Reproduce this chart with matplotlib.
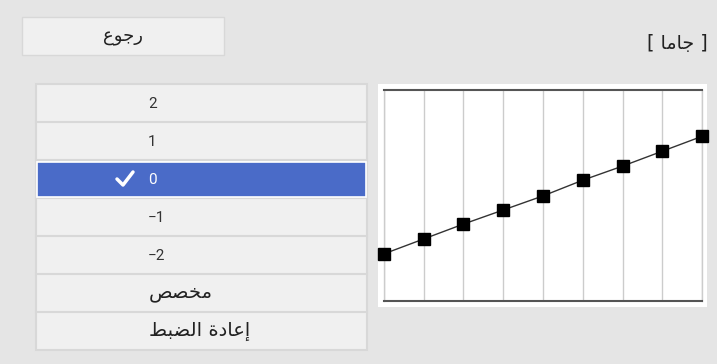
import matplotlib
matplotlib.use('Agg')
from matplotlib import pyplot as plt
from matplotlib.patches import Rectangle

# Arabic presentation forms: (isolated, final, initial, medial)
FORMS = {
    'ا': ('\uFE8D', '\uFE8E', None, None),
    'إ': ('\uFE87', '\uFE88', None, None),
    'ب': ('\uFE8F', '\uFE90', '\uFE91', '\uFE92'),
    'ة': ('\uFE93', '\uFE94', None, None),
    'ج': ('\uFE9D', '\uFE9E', '\uFE9F', '\uFEA0'),
    'خ': ('\uFEA5', '\uFEA6', '\uFEA7', '\uFEA8'),
    'د': ('\uFEA9', '\uFEAA', None, None),
    'ر': ('\uFEAD', '\uFEAE', None, None),
    'ص': ('\uFEB9', '\uFEBA', '\uFEBB', '\uFEBC'),
    'ض': ('\uFEBD', '\uFEBE', '\uFEBF', '\uFEC0'),
    'ط': ('\uFEC1', '\uFEC2', '\uFEC3', '\uFEC4'),
    'ع': ('\uFEC9', '\uFECA', '\uFECB', '\uFECC'),
    'ل': ('\uFEDD', '\uFEDE', '\uFEDF', '\uFEE0'),
    'م': ('\uFEE1', '\uFEE2', '\uFEE3', '\uFEE4'),
    'و': ('\uFEED', '\uFEEE', None, None),
}


def shape(text):
    # very small arabic shaper, returns glyphs in visual order
    out = []
    for word in text.split(' '):
        glyphs = []
        for i, ch in enumerate(word):
            if ch not in FORMS:
                glyphs.append(ch)
                continue
            prev = word[i - 1] if i > 0 else None
            nxt = word[i + 1] if i + 1 < len(word) else None
            join_prev = prev in FORMS and FORMS[prev][2] is not None
            join_next = nxt in FORMS and FORMS[ch][2] is not None
            f = FORMS[ch]
            if join_prev and join_next: glyphs.append(f[3])
            elif join_prev: glyphs.append(f[1])
            elif join_next: glyphs.append(f[2])
            else: glyphs.append(f[0])
        out.append(''.join(reversed(glyphs)))
    return ' '.join(reversed(out))


back_label = 'رجوع'
title_label = 'جاما'
menu_items = ['2', '1', '0', '−1', '−2', 'مخصص', 'إعادة الضبط']
selected_item = '0'

gamma_steps = [0, 1, 2, 3, 4, 5, 6, 7, 8]
gamma_values = [57, 75, 93, 110, 127, 146, 163, 181, 199]

W, H = 717, 364
bg = '#e5e5e5'
row_bg = '#f0f0f0'
sep = '#d8d8d8'
blue = '#4a6bc8'

fig = plt.figure(figsize=(W / 100, H / 100), dpi=100, facecolor=bg)
ui = fig.add_axes([0, 0, 1, 1])
ui.set_xlim(0, W)
ui.set_ylim(H, 0)
ui.axis('off')

# back button
ui.add_patch(Rectangle((22, 17), 202, 38, facecolor=row_bg, edgecolor=sep, lw=1))
ui.text(123, 37, shape(back_label), ha='center', va='center', fontsize=13,
        color='#222222', family='DejaVu Sans')

# title
ui.text(708, 44, '[ ' + shape(title_label) + ' ]', ha='right', va='center',
        fontsize=13.8, color='#222222', family='DejaVu Sans')

# list
row_h = 38
top = 84
ui.add_patch(Rectangle((36, top), 331, row_h * len(menu_items), facecolor=row_bg,
                       edgecolor=sep, lw=1.5))
for i, item in enumerate(menu_items):
    y0 = top + i * row_h
    if i > 0:
        ui.plot([36, 367], [y0, y0], color=sep, lw=1.5)
    color = '#333333'
    if item == selected_item:
        ui.add_patch(Rectangle((37, y0 + 1.5), 329, row_h - 3, facecolor=blue,
                               edgecolor='white', lw=1.2, zorder=3))
        ui.plot([117, 123, 133], [179, 185, 172], color='white', lw=2.5,
                solid_capstyle='round', solid_joinstyle='round', zorder=4)
        color = 'white'
    is_ar = item[0] in FORMS
    if is_ar:
        ui.text(149, y0 + row_h / 2, shape(item), ha='left', va='center',
                fontsize=14, color='#222222', family='DejaVu Sans', zorder=5)
    else:
        ui.text(148, y0 + row_h / 2 + 0.5, item, ha='left', va='center',
                fontsize=11, color=color, family='Roboto', zorder=5)

# graph panel
ui.add_patch(Rectangle((378, 84), 329, 223, facecolor='white', edgecolor='none'))

px0, px1 = 384, 702
py0, py1 = 90, 301
ax = fig.add_axes([px0 / W, 1 - py1 / H, (px1 - px0) / W, (py1 - py0) / H])
ax.set_xlim(0, 8)
ax.set_ylim(0, 255)
ax.set_facecolor('white')
for s in ['left', 'right']:
    ax.spines[s].set_color('#cccccc')
    ax.spines[s].set_linewidth(1)
for s in ['top', 'bottom']:
    ax.spines[s].set_color('#555555')
    ax.spines[s].set_linewidth(1.5)
ax.set_xticks(gamma_steps)
ax.set_yticks([])
ax.tick_params(length=0, labelbottom=False)
ax.grid(axis='x', color='#cccccc', lw=1)
ax.plot(gamma_steps, gamma_values, color='#333333', lw=1, marker='s', markersize=8,
        markerfacecolor='black', markeredgecolor='black', clip_on=False, zorder=3)

plt.savefig('out.png', dpi=100, facecolor=bg)
